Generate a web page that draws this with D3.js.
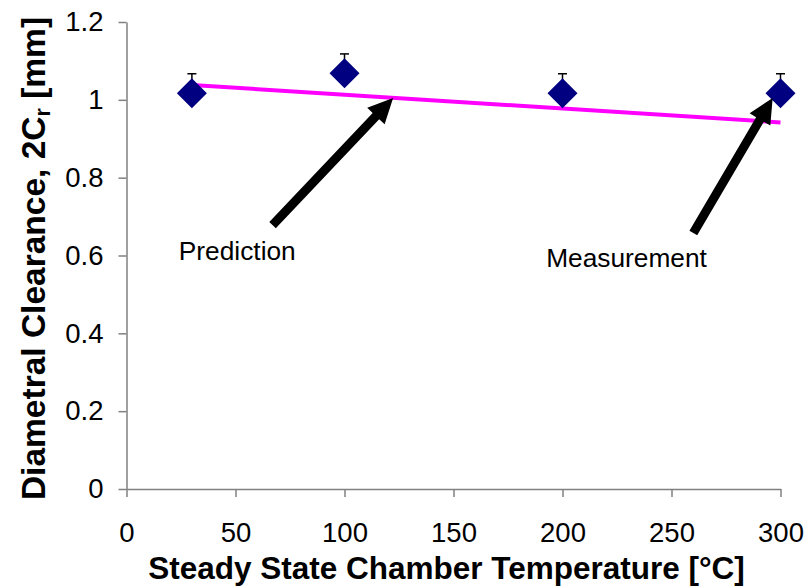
<!DOCTYPE html>
<html>
<head>
<meta charset="utf-8">
<script src="https://cdn.jsdelivr.net/npm/d3@7"></script>
<style>
  html, body { margin: 0; padding: 0; background: #fff; }
  svg { display: block; font-family: "Liberation Sans", Arial, sans-serif; }
</style>
</head>
<body>
<svg id="chart" width="806" height="588"></svg>
<script>
// Measured clearance at each chamber temperature
const temperatures = [30, 100, 200, 300];
const clearances = [1.017, 1.068, 1.017, 1.017];
const errorUp = [0.05, 0.05, 0.05, 0.05];

// Predicted clearance (linear trend)
const predTemps = [30, 300];
const predValues = [1.038, 0.942];

// Axis ticks
const xTicks = [0, 50, 100, 150, 200, 250, 300];
const yTicks = [0, 0.2, 0.4, 0.6, 0.8, 1, 1.2];

// Annotation labels and arrows (data coordinates)
const noteLabels = ["Prediction", "Measurement"];
const noteTextX = [24, 192.5];
const noteTextY = [0.588, 0.570];
const arrowFromX = [67, 260];
const arrowFromY = [0.678, 0.658];
const arrowToX = [122.3, 296.4];
const arrowToY = [1.005, 1.005];

const svg = d3.select("#chart");
const x = d3.scaleLinear().domain([0, 300]).range([126.5, 780.5]);
const y = d3.scaleLinear().domain([0, 1.2]).range([489, 22]);
const axisColor = "#808080";
const tickFs = 27.5;
const noteFs = 26.3;

// Y axis
const gy = svg.append("g").attr("transform", `translate(${x(0)},0)`)
  .call(d3.axisLeft(y).tickValues(yTicks).tickSize(8).tickSizeOuter(0).tickPadding(15)
    .tickFormat(d => d3.format("~g")(d)));
// X axis
const gx = svg.append("g").attr("transform", `translate(0,${y(0)})`)
  .call(d3.axisBottom(x).tickValues(xTicks).tickSize(8).tickSizeOuter(0).tickPadding(25));

[gx, gy].forEach(g => {
  g.select(".domain").attr("stroke", axisColor).attr("stroke-width", 1.5);
  g.selectAll(".tick line").attr("stroke", axisColor).attr("stroke-width", 1.5);
  g.selectAll(".tick text").attr("fill", "#000").attr("font-size", tickFs)
    .attr("font-family", "'Liberation Sans', Arial, sans-serif");
});

// Prediction line
const predData = predTemps.map((t, i) => [t, predValues[i]]);
svg.append("path")
  .datum(predData)
  .attr("d", d3.line().x(d => x(d[0])).y(d => y(d[1])))
  .attr("fill", "none")
  .attr("stroke", "#ff00ff")
  .attr("stroke-width", 4);

// Error bars (upper only)
const meas = temperatures.map((t, i) => ({ t, v: clearances[i], e: errorUp[i] }));
const eb = svg.append("g").attr("stroke", "#000").attr("stroke-width", 1.5);
eb.selectAll("line.v").data(meas).join("line").attr("class", "v")
  .attr("x1", d => x(d.t)).attr("x2", d => x(d.t))
  .attr("y1", d => y(d.v)).attr("y2", d => y(d.v + d.e));
eb.selectAll("line.c").data(meas).join("line").attr("class", "c")
  .attr("x1", d => x(d.t) - 4.5).attr("x2", d => x(d.t) + 4.5)
  .attr("y1", d => y(d.v + d.e)).attr("y2", d => y(d.v + d.e));

// Diamond markers
const r = 15;
svg.append("g").selectAll("path").data(meas).join("path")
  .attr("d", d => {
    const cx = x(d.t), cy = y(d.v);
    return `M${cx},${cy - r}L${cx + r},${cy}L${cx},${cy + r}L${cx - r},${cy}Z`;
  })
  .attr("fill", "#000080");

// Annotation arrows
function arrowPath(x0, y0, x1, y1) {
  const dx = x1 - x0, dy = y1 - y0, len = Math.hypot(dx, dy);
  const ux = dx / len, uy = dy / len, px = -uy, py = ux;
  const sw = 4.5, hw = 12, hl = 25;
  const bx = x1 - ux * hl, by = y1 - uy * hl;
  const pts = [
    [x0 + px * sw, y0 + py * sw],
    [bx + px * sw, by + py * sw],
    [bx + px * hw, by + py * hw],
    [x1, y1],
    [bx - px * hw, by - py * hw],
    [bx - px * sw, by - py * sw],
    [x0 - px * sw, y0 - py * sw]
  ];
  return "M" + pts.map(p => p.join(",")).join("L") + "Z";
}
svg.append("g").selectAll("path").data(noteLabels).join("path")
  .attr("d", (d, i) => arrowPath(x(arrowFromX[i]), y(arrowFromY[i]), x(arrowToX[i]), y(arrowToY[i])))
  .attr("fill", "#000");

svg.append("g").selectAll("text").data(noteLabels).join("text")
  .attr("x", (d, i) => x(noteTextX[i]))
  .attr("y", (d, i) => y(noteTextY[i]))
  .attr("font-size", noteFs)
  .attr("fill", "#000")
  .text(d => d);

// Axis titles
svg.append("text")
  .attr("x", 446.5).attr("y", 579)
  .attr("text-anchor", "middle")
  .attr("font-size", 31.5).attr("font-weight", "bold")
  .text("Steady State Chamber Temperature [°C]");

const yt = svg.append("text")
  .attr("transform", "translate(45,258.5) rotate(-90)")
  .attr("text-anchor", "middle")
  .attr("font-size", 33.5).attr("font-weight", "bold");
yt.append("tspan").text("Diametral Clearance, 2C");
yt.append("tspan").attr("font-size", 21.5).attr("dy", 5).text("r");
yt.append("tspan").attr("dy", -5).text(" [mm]");
</script>
</body>
</html>
